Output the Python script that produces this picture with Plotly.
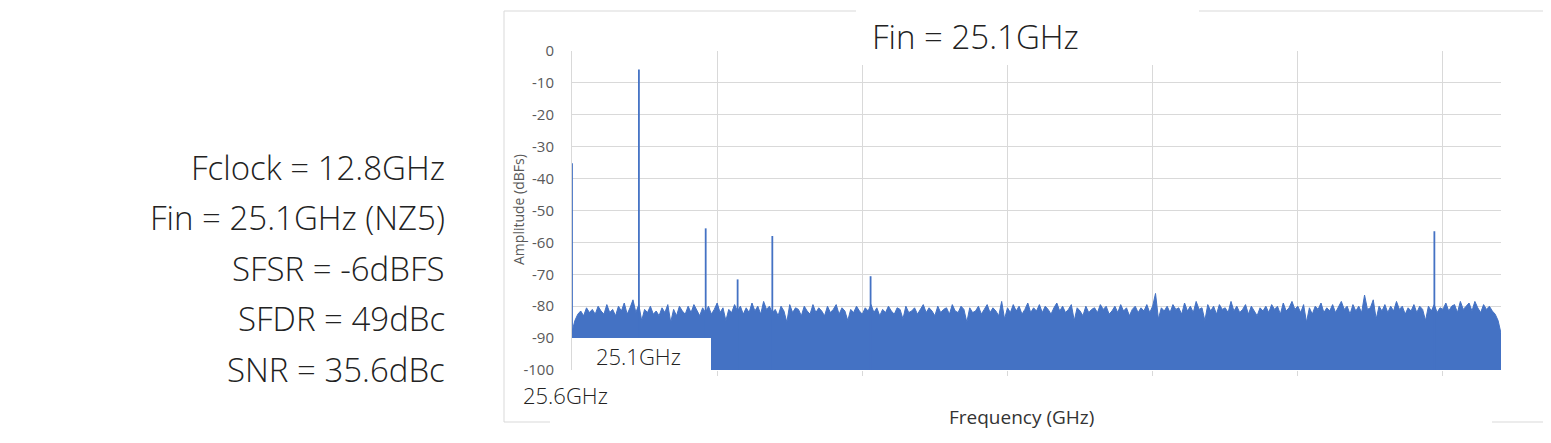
import numpy as np
import plotly.graph_objects as go

# ---------------- data ----------------
info_lines = ["Fclock = 12.8GHz", "Fin = 25.1GHz (NZ5)", "SFSR = -6dBFS", "SFDR = 49dBc", "SNR = 35.6dBc"]
chart_title = "Fin = 25.1GHz"
x_title = "Frequency (GHz)"
y_title = "Amplitude (dBFs)"
y_ticks = [0, -10, -20, -30, -40, -50, -60, -70, -80, -90, -100]
y_tick_text = ["0", "-10", "-20", "-30", "-40", "-50", "-60", "-70", "-80", "-90", "-100"]
label_fin = "25.1GHz"
label_alias = "25.6GHz"

# spurs / tones (GHz, dBFS)
spur_freq = [0.0, 0.461, 0.921, 1.141, 1.380, 2.057, 5.941]
spur_level = [-35.2, -5.8, -55.6, -71.6, -58.0, -70.6, -56.5]

# noise floor top (dBFS), one value per 0.02 GHz bin from 0 to 6.4 GHz
noise_step_ghz = 0.02
noise_top = [
    -88.0, -84.5, -82.5, -81.5, -83.0, -80.5, -82.0, -81.0, -82.5, -80.0, -81.5, -82.5, -79.5, -82.0, -81.0, -83.0, -80.0, -81.5, -79.0, -82.5,
    -80.5, -78.0, -82.0, -79.5, -84.5, -81.0, -82.0, -80.0, -82.5, -81.5, -83.0, -80.5, -82.0, -79.5, -85.0, -81.0, -83.0, -80.0, -81.5, -82.5,
    -80.0, -82.0, -79.5, -81.5, -83.0, -80.5, -82.0, -80.0, -82.5, -81.0, -79.0, -82.0, -80.5, -84.5, -81.0, -82.0, -79.5, -81.5, -80.0, -82.5,
    -80.5, -82.0, -79.0, -81.5, -80.0, -82.5, -78.5, -81.0, -80.0, -82.0, -81.0, -83.0, -80.0, -81.5, -85.0, -79.5, -82.0, -80.5, -81.0, -83.0,
    -80.0, -81.5, -82.5, -79.5, -82.0, -80.5, -81.5, -83.0, -80.0, -82.0, -81.0, -79.5, -82.5, -80.5, -81.5, -84.5, -81.0, -82.0, -80.0, -81.5,
    -82.5, -80.5, -81.5, -79.5, -82.0, -80.5, -83.0, -81.0, -82.0, -80.0, -81.5, -82.5, -80.5, -81.0, -84.0, -80.0, -82.0, -81.5, -80.5, -82.5,
    -81.0, -79.5, -82.0, -80.5, -81.5, -83.0, -80.0, -82.0, -81.0, -80.5, -82.5, -79.5, -81.5, -82.0, -80.0, -81.0, -85.0, -80.5, -82.0, -81.5,
    -80.0, -82.5, -81.0, -79.5, -82.0, -80.5, -81.5, -83.0, -78.5, -84.0, -80.5, -82.0, -79.5, -81.5, -80.0, -82.5, -81.0, -79.0, -82.0, -80.5,
    -81.5, -79.5, -82.0, -80.0, -81.0, -82.5, -80.5, -79.0, -81.5, -80.0, -82.0, -81.0, -79.5, -84.5, -80.5, -81.5, -83.0, -80.0, -82.0, -81.0,
    -80.5, -82.0, -79.5, -81.0, -80.0, -82.5, -81.5, -80.0, -82.0, -79.5, -81.5, -80.5, -83.0, -81.0, -80.0, -82.0, -80.5, -81.5, -79.5, -82.0,
    -80.0, -76.0, -84.0, -80.5, -81.5, -80.0, -82.0, -79.5, -81.0, -80.5, -82.5, -79.0, -81.5, -80.0, -82.0, -78.5, -81.0, -80.5, -84.5, -79.5,
    -81.5, -80.0, -82.5, -79.5, -81.0, -80.5, -82.0, -78.5, -81.5, -80.0, -82.0, -81.0, -79.5, -82.5, -80.0, -81.5, -83.0, -80.5, -81.5, -80.0,
    -82.0, -79.5, -81.0, -80.0, -82.5, -79.0, -81.5, -80.5, -78.5, -81.0, -80.0, -82.0, -79.5, -85.0, -80.5, -82.5, -80.0, -81.0, -79.0, -82.0,
    -80.5, -81.5, -79.5, -82.0, -80.0, -78.5, -81.0, -80.0, -82.5, -79.5, -81.5, -80.0, -82.0, -76.5, -81.0, -80.5, -78.0, -84.0, -80.0, -81.5,
    -79.5, -82.0, -80.0, -81.5, -78.5, -81.0, -80.0, -82.5, -80.5, -81.5, -79.5, -82.0, -80.0, -81.0, -84.5, -80.0, -81.5, -79.5, -82.0, -80.5,
    -81.0, -79.0, -81.5, -80.0, -79.5, -82.0, -78.5, -81.0, -80.0, -79.0, -81.5, -78.5, -80.5, -82.0, -79.5, -81.0, -80.0, -81.5, -82.5, -84.5,
    -88.5,
]
noise_freq = [i * noise_step_ghz for i in range(len(noise_top))]

# ---------------- layout geometry ----------------
# the page body adds an 8px offset, so the figure is drawn 8px smaller/shifted
OFF = 8
W, H = 1551 - OFF, 443 - OFF
PL, PR, PT, PB = 572 - OFF, 1501 - OFF, 51 - OFF, 370 - OFF  # plot area in figure pixels


def px(xp):  # xp: reference window pixel
    return (xp - OFF - PL) / (PR - PL)


def py(yp):
    return (PB - (yp - OFF)) / (PB - PT)


BLUE = "#4472C4"
GRID = "#D9D9D9"
FONT = "Open Sans"

fig = go.Figure()

fig.add_trace(go.Scatter(x=noise_freq, y=[y_ticks[-1]] * len(noise_freq), mode="lines",
                         line=dict(width=0, color=BLUE), hoverinfo="skip", showlegend=False))
fig.add_trace(go.Scatter(x=noise_freq, y=noise_top, mode="lines", fill="tonexty",
                         fillcolor=BLUE, line=dict(width=1, color=BLUE), showlegend=False))

sx, sy = [], []
for f, lv in zip(spur_freq, spur_level):
    sx += [f, f, None]
    sy += [y_ticks[-1], lv, None]
fig.add_trace(go.Scatter(x=sx, y=sy, mode="lines", line=dict(width=1.8, color=BLUE), showlegend=False))

shapes = []
bline = dict(color=GRID, width=1)
for (x0, y0, x1, y1) in [(504, 11, 504, 422), (1550, 11, 1550, 422), (504, 11, 856, 11), (1199, 11, 1550, 11),
                         (504, 422, 550, 422), (1492, 422, 1550, 422)]:
    shapes.append(dict(type="line", xref="paper", yref="paper", x0=px(x0), y0=py(y0), x1=px(x1), y1=py(y1),
                       line=bline, layer="above"))
shapes.append(dict(type="rect", xref="paper", yref="paper", x0=px(856), x1=px(1199), y0=py(OFF), y1=py(65),
                   fillcolor="white", line=dict(width=0), layer="above"))
shapes.append(dict(type="rect", xref="paper", yref="paper", x0=px(572), x1=px(711), y0=py(338), y1=py(376),
                   fillcolor="white", line=dict(width=0), layer="above"))

annotations = []
annotations.append(dict(text=chart_title, xref="paper", yref="paper", x=px(975), y=py(36), showarrow=False,
                        xanchor="center", yanchor="middle", font=dict(family=FONT, size=33, color="#222", weight=300)))
for i, t in enumerate(info_lines):
    annotations.append(dict(text=t, xref="paper", yref="paper", x=px(447), y=py(167 + 50.5 * i), showarrow=False,
                            xanchor="right", yanchor="middle", font=dict(family=FONT, size=33, color="#222", weight=300)))
annotations.append(dict(text=label_fin, xref="paper", yref="paper", x=px(638), y=py(356), showarrow=False,
                        xanchor="center", yanchor="middle", font=dict(family=FONT, size=22, color="#222", weight=300)))
annotations.append(dict(text=label_alias, xref="paper", yref="paper", x=px(565), y=py(395), showarrow=False,
                        xanchor="center", yanchor="middle", font=dict(family=FONT, size=22, color="#222", weight=300)))
annotations.append(dict(text=x_title, xref="paper", yref="paper", x=px(1021), y=py(417), showarrow=False,
                        xanchor="center", yanchor="middle", font=dict(family=FONT, size=19, color="#333")))
annotations.append(dict(text=y_title, xref="paper", yref="paper", x=px(518), y=py(210), showarrow=False,
                        textangle=-90, xanchor="center", yanchor="middle", font=dict(family=FONT, size=14, color="#595959")))

fig.update_layout(
    width=W, height=H,
    margin=dict(l=PL, r=W - PR, t=PT, b=H - PB, pad=0),
    paper_bgcolor="white", plot_bgcolor="white",
    showlegend=False,
    shapes=shapes, annotations=annotations,
    xaxis=dict(range=[0, 6.4], dtick=1, tick0=0, showgrid=True, gridcolor=GRID, gridwidth=1,
               showticklabels=False, ticks="outside", ticklen=5, tickcolor=GRID, tickwidth=1,
               zeroline=False, showline=False),
    yaxis=dict(range=[-100, 0], tickvals=y_ticks, ticktext=y_tick_text, showgrid=True, gridcolor=GRID, gridwidth=1,
               zeroline=False, showline=True, linecolor=GRID, linewidth=1, ticks="",
               ticklabelstandoff=14, tickfont=dict(family=FONT, size=15, color="#595959")),
)

fig.write_html("out.html")
